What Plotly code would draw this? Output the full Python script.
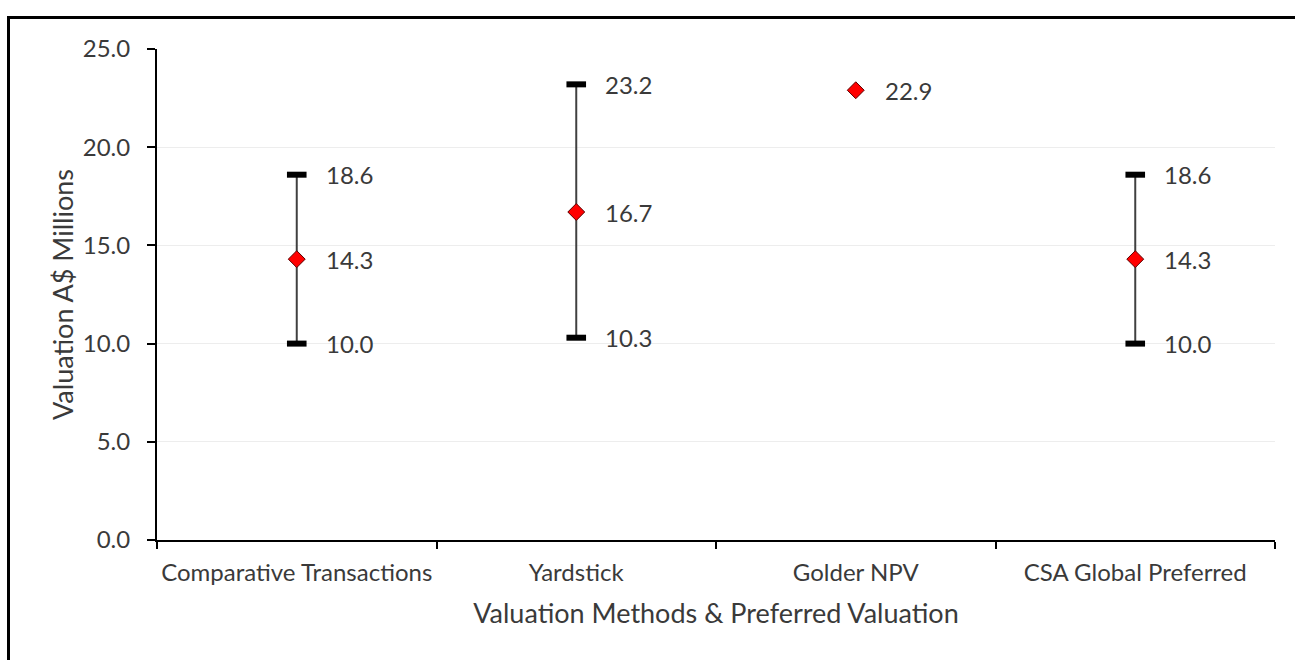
import plotly.graph_objects as go

# Valuation ranges (A$ millions) for each method
categories = ["Comparative Transactions", "Yardstick", "Golder NPV", "CSA Global Preferred"]
low_values = [10.0, 10.3, None, 10.0]
mid_values = [14.3, 16.7, 22.9, 14.3]
high_values = [18.6, 23.2, None, 18.6]
y_tick_values = [0, 5, 10, 15, 20, 25]
y_tick_labels = ["0.0", "5.0", "10.0", "15.0", "20.0", "25.0"]

FONT = "Lato"
TEXT_COLOR = "#3a3a3a"
LABEL_SIZE = 24
TITLE_SIZE = 27

W, H = 1295, 660
L, R, T, B = 157, 20, 49, 120

fig = go.Figure()

# vertical whiskers between low and high
stem_x, stem_y = [], []
cap_x, cap_y = [], []
for cat, lo, hi in zip(categories, low_values, high_values):
    if lo is None or hi is None:
        continue
    stem_x += [cat, cat, None]
    stem_y += [lo, hi, None]
    cap_x += [cat, cat]
    cap_y += [lo, hi]

fig.add_trace(go.Scatter(
    x=stem_x, y=stem_y, mode="lines",
    line=dict(color="#404040", width=2),
    hoverinfo="skip", showlegend=False,
))

# thick end caps
fig.add_trace(go.Scatter(
    x=cap_x, y=cap_y, mode="markers",
    marker=dict(symbol="line-ew", size=14, color="black",
                line=dict(color="black", width=6)),
    hoverinfo="skip", showlegend=False,
))

# midpoint valuation diamonds
fig.add_trace(go.Scatter(
    x=categories, y=mid_values, mode="markers",
    marker=dict(symbol="diamond", size=13, color="#ff0000",
                line=dict(color="#5a0000", width=1)),
    showlegend=False,
))

# value labels to the right of each mark
annotations = []
for cat, lo, mid, hi in zip(categories, low_values, mid_values, high_values):
    for v in (lo, mid, hi):
        if v is None:
            continue
        annotations.append(dict(
            x=cat, y=v, xref="x", yref="y", text=f"{v:.1f}",
            showarrow=False, xanchor="left", yanchor="middle", xshift=27,
            font=dict(family=FONT, size=LABEL_SIZE, color=TEXT_COLOR),
        ))

pw = W - L - R
ph = H - T - B
fig.add_shape(
    type="rect", xref="paper", yref="paper",
    x0=(8.5 - L) / pw, x1=(W + 20 - L) / pw,
    y0=(H - T - B - (H + 20 - T)) / ph, y1=(H - B - 17.5) / ph,
    line=dict(color="black", width=3), fillcolor="rgba(0,0,0,0)", layer="below",
)

fig.update_layout(
    width=W, height=H,
    margin=dict(l=L, r=R, t=T, b=B, autoexpand=False),
    paper_bgcolor="white", plot_bgcolor="white",
    font=dict(family=FONT, size=LABEL_SIZE, color=TEXT_COLOR),
    annotations=annotations,
    xaxis=dict(
        type="category", categoryorder="array", categoryarray=categories,
        range=[-0.5, len(categories) - 0.5],
        tickson="boundaries", ticks="outside", ticklen=7, tickwidth=2, tickcolor="black",
        showline=True, linecolor="black", linewidth=2, showgrid=False,
        tickangle=0, ticklabelstandoff=10,
        tickfont=dict(family=FONT, size=LABEL_SIZE, color=TEXT_COLOR),
        title=dict(text="Valuation Methods & Preferred Valuation", standoff=19,
                   font=dict(family=FONT, size=TITLE_SIZE, color=TEXT_COLOR)),
    ),
    yaxis=dict(
        range=[0, 25], tickvals=y_tick_values, ticktext=y_tick_labels,
        ticks="outside", ticklen=8, tickwidth=2, tickcolor="black",
        showline=True, linecolor="black", linewidth=2,
        showgrid=True, gridcolor="#ededed", gridwidth=1, zeroline=False,
        ticklabelstandoff=12,
        tickfont=dict(family=FONT, size=LABEL_SIZE, color=TEXT_COLOR),
        title=dict(text="Valuation A$ Millions", standoff=1,
                   font=dict(family=FONT, size=TITLE_SIZE, color=TEXT_COLOR)),
    ),
)

fig.write_html("out.html")
